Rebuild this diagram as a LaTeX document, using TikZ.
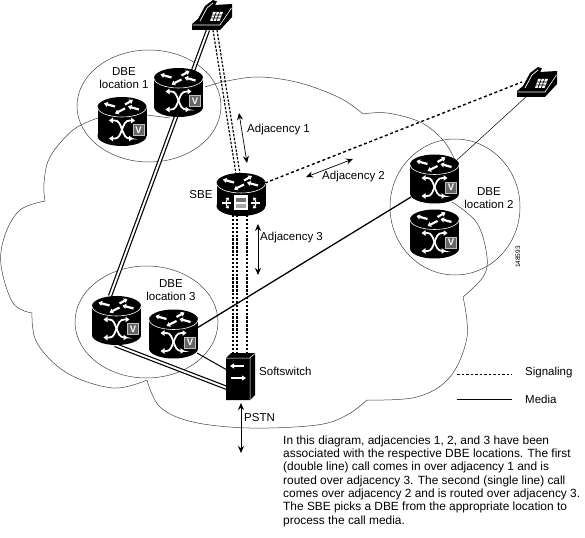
\documentclass[tikz,border=0pt]{standalone}
\usepackage{fontspec}
\setmainfont{Liberation Sans}
\usetikzlibrary{arrows.meta,calc,shapes.geometric}
\newcommand{\CylBody}[1]{%
  \fill[black] (0,-#1) ellipse [x radius=24.5,y radius=10];
  \fill[black] (-24.5,-#1) rectangle (24.5,#1);
  \fill[black] (0,#1) ellipse [x radius=24.5,y radius=10];
  \draw[white,line width=.6pt] (-24.5,-#1) arc [start angle=180,end angle=0,x radius=24.5,y radius=10];
  \begin{scope}[shift={(0,-#1)},white,line width=2.2pt,-{Triangle[length=3.5pt,width=5pt]}]
    \draw (-7,-.5) -- (-18,-3.5);
    \draw (17,2.5) -- (6,-.5);
    \draw (3,-2.5) -- (11,-7);
    \draw (3,1.5) -- (-7,6.5);
  \end{scope}}
\tikzset{
  thinline/.style={line width=.5pt,black!75},
  dbearea/.style={draw,thinline,ellipse,inner sep=0pt},
  doublemedia/.style={double=white,double distance=1.9pt,line width=1.2pt,black},
  signal/.style={line width=1.15pt,dash pattern=on 2.4pt off 1.5pt,black},
  signalb/.style={line width=1.4pt,dash pattern=on 3pt off 2.6pt,black},
  media/.style={line width=1.3pt,black},
  adj/.style={line width=.7pt,black,{Stealth[length=7pt,width=6pt]}-{Stealth[length=7pt,width=6pt]}},
  lab/.style={inner sep=0pt,font=\fontsize{11.5}{13}\selectfont,align=center},
  holder/.style={minimum width=49pt,minimum height=49pt,inner sep=0pt,draw=none},
  vrouter/.pic={
    \CylBody{14.5}
    \begin{scope}[white,line width=1.8pt,{Triangle[length=4pt,width=5.5pt]}-{Triangle[length=4pt,width=5.5pt]}]
      \draw (-13,-1) -- (-7,-1) .. controls (-3,-1) and (-2,3) .. (0,8) .. controls (2,13) and (3,17) .. (8,17) -- (11,17);
      \draw (-13,17) -- (-7,17) .. controls (-3,17) and (-2,13) .. (0,8) .. controls (2,3) and (3,-1) .. (8,-1) -- (13,-1);
    \end{scope}
    \draw[black!25,fill=black!60,line width=.9pt] (11,3) rectangle (22,14);
    \node[text=white,inner sep=0pt,font=\bfseries\fontsize{9.5}{10}\selectfont] at (16.5,8.5) {V};
  },
  sbeicon/.pic={
    \CylBody{11.5}
    \fill[white] (-7,.5) rectangle (7,15.5);
    \fill[black!55] (-5,3.5) rectangle (5,7);
    \fill[black!35] (-5,9) rectangle (5,13.5);
    \draw[white,line width=1.2pt,{Triangle[length=3pt,width=4pt]}-{Triangle[length=3pt,width=4pt]}] (-12,3) .. controls (-15,6) and (-15,11) .. (-12,14);
    \draw[white,line width=1.2pt,{Triangle[length=3pt,width=4pt]}-{Triangle[length=3pt,width=4pt]}] (12,3) .. controls (15,6) and (15,11) .. (12,14);
    \draw[white,line width=1.2pt] (-19,8.5) -- (-10,8.5) (10,8.5) -- (19,8.5);
  },
  phoneicon/.pic={
    \fill[black] (0,24) -- (6,19) -- (13,6) -- (21,0) -- (25,1.5) -- (23,5) -- (40,4) -- (40,17) -- (28,30) -- (0,30) -- cycle;
    \draw[white,line width=.6pt] (.5,25) -- (28,25) -- (39.5,8);
    \draw[white,line width=.7pt] (8,21) -- (15,8) -- (21,3);
    \fill[white] (21,12) -- (31,12) -- (27.5,21) -- (18,21) -- cycle;
    \draw[black,line width=.6pt] (20.2,15) -- (30,15) (19,18) -- (28.7,18) (24.3,12) -- (21,21) (27.6,12) -- (24.3,21);
  },
  softswitch/.pic={
    \fill[black] (0,5) -- (5,0) -- (29,0) -- (29,42) -- (24,47) -- (0,47) -- cycle;
    \draw[white,line width=.5pt] (0,5) -- (24,5) -- (29,.5) (24,5) -- (24,47);
    \draw[white,line width=1.2pt,-{Triangle[length=4pt,width=5pt]}] (18,13) -- (4,13);
    \draw[white,line width=1.2pt,-{Triangle[length=4pt,width=5pt]}] (5,25) -- (20,25);
  }
}
\begin{document}
\begin{tikzpicture}[x=1pt,y=-1pt]
\useasboundingbox (0,0) rectangle (585,537);
% named holders
\node[holder] (r1) at (178.5,92.5) {};
\node[holder] (r2) at (122,121.5) {};
\node[holder] (sbe) at (241,194.5) {};
\node[holder] (r3a) at (116.5,320.5) {};
\node[holder] (r3b) at (173.5,334) {};
\node[holder] (r4) at (434.5,179) {};
\node[holder] (r5) at (434.5,234) {};
\node[inner sep=0pt,minimum width=40pt,minimum height=30pt] (ph1) at (212,15) {};
\node[inner sep=0pt,minimum width=40pt,minimum height=30pt] (ph2) at (537,82) {};
\node[inner sep=0pt,minimum width=29pt,minimum height=47pt] (ss) at (240.5,376.5) {};
% connector ends
\coordinate (ph1m) at (208,30);
\coordinate (r3am) at (110,296);
\coordinate (r3as) at (115,345);
\coordinate (ssd) at (227,388);
\coordinate (r3bs) at (197,353);
\coordinate (ssm) at (227,370);
\coordinate (r3bm) at (197,328);
\coordinate (r4m) at (411,197);
\coordinate (ph2m) at (527,96);
\coordinate (r4t) at (457,160);
\coordinate (ph2s) at (522,82);
\coordinate (sbes) at (265,183);
\coordinate (ph1a) at (213,30);
\coordinate (ph1b) at (217,30);
\coordinate (sbea) at (236,174);
\coordinate (sbeb) at (240,174);
\coordinate (sbec) at (233,215);
\coordinate (sbed) at (237,215);
\coordinate (sbee) at (247,215);
\coordinate (ssa) at (233,356);
\coordinate (ssb) at (237,356);
\coordinate (ssc) at (247,354);
\coordinate (a1a) at (239,113);
\coordinate (a1b) at (247,163);
\coordinate (a2a) at (306,177);
\coordinate (a2b) at (353,159);
\coordinate (a3a) at (258,224);
\coordinate (a3b) at (258,275);
\coordinate (pa) at (241,403);
\coordinate (pb) at (241,453);
\coordinate (lga) at (457,374);
\coordinate (lgb) at (512,374);
\coordinate (lgc) at (457,399);
\coordinate (lgd) at (512,399);
% cloud
\draw[thinline] plot[smooth,tension=.6] coordinates {(98,118) (73,130) (50,157) (44,183) (45,201)};
\draw[thinline] plot[smooth,tension=.6] coordinates {(45,201) (20,210) (5,235) (1,265) (13,303) (32,313)};
\draw[thinline] plot[smooth,tension=.6] coordinates {(32,313) (37,343) (67,373) (113,388) (147,380)};
\draw[thinline] plot[smooth,tension=.6] coordinates {(147,380) (160,407) (193,422) (250,428) (317,425) (347,415) (367,400)};
\draw[thinline] plot[smooth,tension=.6] coordinates {(367,400) (417,397) (450,377) (467,337) (463,297)};
\draw[thinline] plot[smooth,tension=.6] coordinates {(463,297) (483,277) (487,257) (477,223) (452,202)};
\draw[thinline] plot[smooth,tension=.6] coordinates {(205,87) (227,81) (260,77) (300,83) (340,98) (363,114)};
\draw[thinline] plot[smooth,tension=.6] coordinates {(363,114) (387,113) (420,122) (443,140) (455,160)};
\draw[thinline] (147,115) -- (170,118);
% DBE areas
\node[dbearea,minimum width=144pt,minimum height=112pt] (a1) at (149,106) {};
\node[dbearea,minimum width=143pt,minimum height=112pt] (a3) at (146.5,322) {};
\node[dbearea,minimum width=130pt,minimum height=136pt] (a2) at (455,207) {};
% connectors
\draw[doublemedia] (ph1m) -- (r3am);
\draw[doublemedia] (r3as) -- (ssd);
\draw[media,line width=1pt] (r3bs) -- (ssm);
\draw[media] (r3bm) -- (r4m);
\draw[thinline,black] (ph2m) -- (r4t);
\draw[signal] (ph1a) -- (sbea);
\draw[signal] (ph1b) -- (sbeb);
\draw[signal] (sbec) -- (ssa);
\draw[signal] (sbed) -- (ssb);
\draw[signal] (sbee) -- (ssc);
\draw[signalb] (sbes) -- (ph2s);
\draw[adj] (a1a) -- (a1b);
\draw[adj] (a2a) -- (a2b);
\draw[adj] (a3a) -- (a3b);
\draw[adj] (pa) -- (pb);
% devices
\pic at (r1) {vrouter};
\pic at (r2) {vrouter};
\pic at (r3a) {vrouter};
\pic at (r3b) {vrouter};
\pic at (r4) {vrouter};
\pic at (r5) {vrouter};
\pic at (sbe) {sbeicon};
\pic at (192,0) {phoneicon};
\pic at (517,67) {phoneicon};
\pic at (226,353) {softswitch};
% labels
\node[lab] (t1) at (124,78.5) {DBE\\location 1};
\node[lab] (t3) at (171,290) {DBE\\location 3};
\node[lab] (t2) at (489,198.5) {DBE\\location 2};
\node[lab,anchor=west] (l1) at (247,130) {Adjacency 1};
\node[lab,anchor=west] (l2) at (322,177) {Adjacency 2};
\node[lab,anchor=west] (l3) at (260,238) {Adjacency 3};
\node[lab] (l4) at (201,194.5) {SBE};
\node[lab,anchor=west] (l5) at (259,371) {Softswitch};
\node[lab,anchor=west] (l6) at (244,418) {PSTN};
\node[inner sep=0pt,rotate=90,font=\fontsize{6.5}{7}\selectfont] (id) at (518,257) {148593};
% legend
\draw[thinline,black,line width=.8pt,dash pattern=on 2.5pt off 2pt] (lga) -- (lgb);
\draw[media,line width=.9pt] (lgc) -- (lgd);
\node[lab,anchor=west] (s1) at (525,373) {Signaling};
\node[lab,anchor=west] (s2) at (525,399) {Media};
% note
\node[inner sep=0pt,anchor=north west,align=left,font=\fontsize{11.9}{13.3}\selectfont] (note) at (283,435.5) {In this diagram, adjacencies 1, 2, and 3 have been\\associated with the respective DBE locations. The first\\(double line) call comes in over adjacency 1 and is\\routed over adjacency 3. The second (single line) call\\comes over adjacency 2 and is routed over adjacency 3.\\The SBE picks a DBE from the appropriate location to\\process the call media.};
\end{tikzpicture}
\end{document}
